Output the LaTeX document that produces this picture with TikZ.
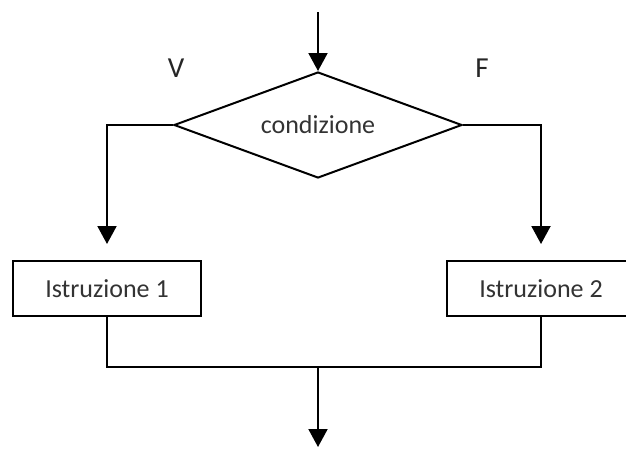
\documentclass[tikz,border=0pt]{standalone}
\usepackage{fontspec}
\setmainfont{Carlito}
\usetikzlibrary{shapes.geometric,arrows.meta}
\begin{document}
\begin{tikzpicture}[x=1pt,y=-1pt,
  ln/.style={line width=2pt,draw=black},
  arr/.style={ln,-{Triangle[width=19pt,length=18pt]}},
  txt/.style={font=\fontsize{26}{31}\selectfont,text=black!80},
  lbl/.style={font=\fontsize{29}{34}\selectfont,text=black!85},
  boxst/.style={ln,rectangle,minimum width=188pt,minimum height=55pt,inner sep=0pt,txt},
  diast/.style={ln,diamond,aspect=2.7,minimum width=288pt,minimum height=106pt,inner sep=0pt,txt}]
\useasboundingbox (0,0) rectangle (626,450);
\clip (0,0) rectangle (626,450);
\fill[white] (0,0) rectangle (626,450);
\node[diast] (dia) at (318,125) {condizione};
\node[boxst] (b1) at (107,288.5) {Istruzione 1};
\node[boxst] (b2) at (541,288.5) {Istruzione 2};
\node[lbl] (v) at (176,68) {V};
\node[lbl] (f) at (482,68) {F};
\coordinate (top) at (318,12);
\coordinate (join) at (318,367);
\coordinate (bot) at (318,447);
\draw[arr] (top) -- (dia.north);
\draw[arr] (dia.west) -| ([yshift=16pt]b1.north);
\draw[arr] (dia.east) -| ([yshift=16pt]b2.north);
\draw[ln] (b1.south) -- (b1.south |- join) -- (b2.south |- join) -- (b2.south);
\draw[arr] (join) -- (bot);
\end{tikzpicture}
\end{document}
